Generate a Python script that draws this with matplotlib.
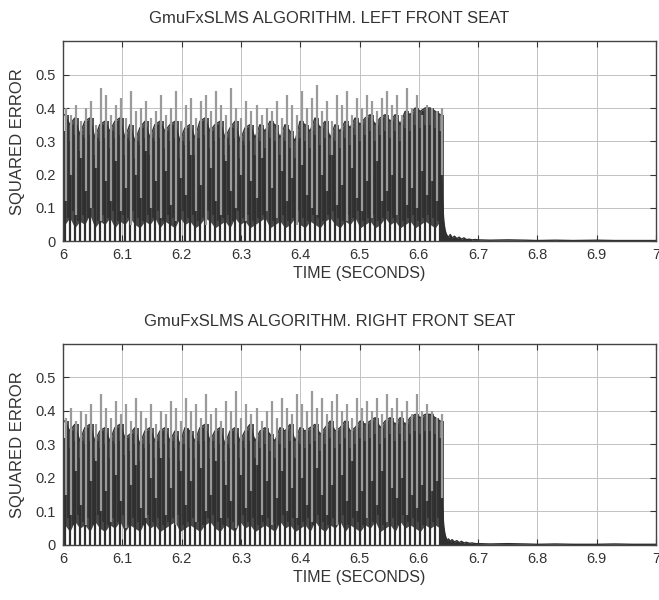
import numpy as np
import matplotlib
matplotlib.use("Agg")
import matplotlib.pyplot as plt

plt.rcParams["font.family"] = ["Liberation Sans", "DejaVu Sans"]

# ---- data -------------------------------------------------------------
# Converging phase: one entry per oscillation cycle between these times (s)
cycle_start = 6.003
cycle_end = 6.636

# LEFT FRONT SEAT
left_peak = [0.40, 0.38, 0.41, 0.36, 0.40, 0.42, 0.35, 0.46, 0.44, 0.38,
             0.41, 0.43, 0.37, 0.45, 0.39, 0.40, 0.42, 0.37, 0.39, 0.44,
             0.38, 0.40, 0.45, 0.36, 0.41, 0.43, 0.37, 0.42, 0.44, 0.39,
             0.45, 0.41, 0.38, 0.46, 0.40, 0.37, 0.42, 0.39, 0.41, 0.38,
             0.40, 0.39, 0.42, 0.37, 0.44, 0.41, 0.38, 0.45, 0.40, 0.43,
             0.47, 0.39, 0.42, 0.36, 0.44, 0.41, 0.45, 0.38, 0.43, 0.40,
             0.44, 0.42, 0.39, 0.43, 0.45, 0.41, 0.44, 0.38, 0.46, 0.40,
             0.44, 0.38, 0.41, 0.40, 0.39, 0.40]
left_body = [0.38, 0.35, 0.37, 0.32, 0.36, 0.37, 0.31, 0.35, 0.36, 0.33,
             0.36, 0.37, 0.31, 0.35, 0.30, 0.34, 0.36, 0.31, 0.35, 0.36,
             0.33, 0.35, 0.36, 0.30, 0.34, 0.35, 0.31, 0.36, 0.37, 0.33,
             0.35, 0.36, 0.31, 0.34, 0.36, 0.30, 0.34, 0.35, 0.31, 0.35,
             0.33, 0.36, 0.35, 0.31, 0.35, 0.33, 0.30, 0.36, 0.35, 0.33,
             0.37, 0.34, 0.36, 0.31, 0.35, 0.33, 0.36, 0.34, 0.37, 0.35,
             0.37, 0.38, 0.35, 0.37, 0.38, 0.36, 0.38, 0.35, 0.39, 0.38,
             0.40, 0.39, 0.40, 0.40, 0.39, 0.38]
left_floor = [0.05, 0.07, 0.04, 0.06, 0.05, 0.08, 0.04, 0.06, 0.05, 0.07,
              0.04, 0.06, 0.05, 0.07, 0.05, 0.04, 0.06, 0.05, 0.07, 0.04,
              0.06, 0.05, 0.04, 0.07, 0.05, 0.06, 0.04, 0.05, 0.07, 0.06,
              0.04, 0.05, 0.06, 0.04, 0.07, 0.05, 0.06, 0.04, 0.05, 0.06,
              0.07, 0.04, 0.05, 0.06, 0.04, 0.05, 0.07, 0.05, 0.04, 0.06,
              0.05, 0.04, 0.06, 0.07, 0.05, 0.04, 0.06, 0.05, 0.07, 0.04,
              0.05, 0.06, 0.04, 0.05, 0.07, 0.05, 0.06, 0.04, 0.05, 0.06,
              0.04, 0.05, 0.06, 0.05, 0.04, 0.06]
left_base = [0.12, 0.20, 0.08, 0.25, 0.15, 0.10, 0.22, 0.06, 0.18, 0.12,
             0.24, 0.09, 0.16, 0.05, 0.20, 0.13, 0.27, 0.10, 0.18, 0.07,
             0.21, 0.11, 0.06, 0.19, 0.14, 0.26, 0.09, 0.17, 0.05, 0.22,
             0.12, 0.08, 0.24, 0.15, 0.10, 0.20, 0.06, 0.18, 0.13, 0.25,
             0.09, 0.16, 0.07, 0.21, 0.12, 0.19, 0.05, 0.23, 0.14, 0.10,
             0.08, 0.20, 0.15, 0.26, 0.11, 0.17, 0.06, 0.22, 0.13, 0.09,
             0.18, 0.07, 0.24, 0.12, 0.15, 0.20, 0.08, 0.19, 0.11, 0.16,
             0.10, 0.21, 0.14, 0.18, 0.12, 0.20]
left_tail_t = [6.636, 6.638, 6.640, 6.642, 6.644, 6.646, 6.648, 6.650, 6.653,
               6.656, 6.660, 6.664, 6.668, 6.672, 6.676, 6.680, 6.685, 6.690,
               6.695, 6.700, 6.720, 6.750, 6.780, 6.800, 6.830, 6.860, 6.900,
               6.930, 6.960, 7.000]
left_tail_v = [0.30, 0.22, 0.12, 0.06, 0.035, 0.022, 0.016, 0.012, 0.020,
               0.010, 0.015, 0.008, 0.012, 0.006, 0.010, 0.005, 0.006, 0.004,
               0.005, 0.004, 0.003, 0.004, 0.003, 0.002, 0.003, 0.002, 0.003,
               0.002, 0.002, 0.002]

# RIGHT FRONT SEAT
right_peak = [0.38, 0.41, 0.37, 0.40, 0.39, 0.42, 0.36, 0.45, 0.41, 0.38,
              0.43, 0.39, 0.42, 0.37, 0.44, 0.40, 0.38, 0.42, 0.36, 0.40,
              0.39, 0.43, 0.41, 0.37, 0.44, 0.40, 0.42, 0.38, 0.45, 0.39,
              0.41, 0.37, 0.43, 0.40, 0.46, 0.38, 0.42, 0.39, 0.41, 0.37,
              0.40, 0.43, 0.38, 0.44, 0.41, 0.39, 0.45, 0.42, 0.40, 0.46,
              0.41, 0.44, 0.39, 0.43, 0.45, 0.40, 0.42, 0.38, 0.44, 0.41,
              0.43, 0.40, 0.44, 0.39, 0.45, 0.41, 0.44, 0.40, 0.43, 0.39,
              0.45, 0.40, 0.42, 0.40, 0.38, 0.39]
right_body = [0.37, 0.34, 0.36, 0.31, 0.35, 0.36, 0.31, 0.34, 0.35, 0.31,
              0.35, 0.36, 0.32, 0.33, 0.35, 0.30, 0.34, 0.35, 0.31, 0.34,
              0.35, 0.31, 0.34, 0.30, 0.35, 0.34, 0.31, 0.35, 0.36, 0.31,
              0.34, 0.35, 0.30, 0.34, 0.35, 0.31, 0.34, 0.36, 0.31, 0.34,
              0.35, 0.33, 0.31, 0.35, 0.34, 0.36, 0.31, 0.35, 0.34, 0.35,
              0.36, 0.33, 0.35, 0.37, 0.34, 0.35, 0.37, 0.34, 0.35, 0.37,
              0.36, 0.37, 0.38, 0.35, 0.37, 0.38, 0.36, 0.38, 0.36, 0.38,
              0.39, 0.38, 0.39, 0.39, 0.38, 0.37]
right_floor = [0.06, 0.04, 0.07, 0.05, 0.06, 0.04, 0.07, 0.05, 0.04, 0.06,
               0.05, 0.07, 0.04, 0.06, 0.05, 0.04, 0.07, 0.05, 0.06, 0.04,
               0.05, 0.06, 0.07, 0.04, 0.05, 0.06, 0.05, 0.04, 0.06, 0.07,
               0.05, 0.04, 0.06, 0.05, 0.04, 0.07, 0.05, 0.06, 0.04, 0.05,
               0.06, 0.05, 0.04, 0.07, 0.05, 0.06, 0.04, 0.05, 0.06, 0.04,
               0.07, 0.05, 0.04, 0.06, 0.05, 0.07, 0.04, 0.06, 0.05, 0.04,
               0.06, 0.05, 0.07, 0.04, 0.05, 0.06, 0.04, 0.07, 0.05, 0.06,
               0.05, 0.04, 0.06, 0.05, 0.06, 0.05]
right_base = [0.15, 0.09, 0.22, 0.12, 0.06, 0.19, 0.25, 0.10, 0.16, 0.07,
              0.21, 0.13, 0.05, 0.18, 0.24, 0.11, 0.08, 0.20, 0.14, 0.26,
              0.09, 0.17, 0.06, 0.22, 0.12, 0.19, 0.07, 0.23, 0.10, 0.15,
              0.25, 0.08, 0.18, 0.13, 0.05, 0.21, 0.11, 0.16, 0.24, 0.09,
              0.19, 0.06, 0.14, 0.22, 0.10, 0.17, 0.08, 0.20, 0.12, 0.07,
              0.23, 0.15, 0.09, 0.18, 0.06, 0.21, 0.13, 0.25, 0.10, 0.16,
              0.08, 0.19, 0.12, 0.22, 0.07, 0.17, 0.14, 0.20, 0.09, 0.15,
              0.11, 0.18, 0.13, 0.16, 0.19, 0.14]
right_tail_t = [6.636, 6.638, 6.640, 6.642, 6.644, 6.646, 6.648, 6.650, 6.653,
                6.656, 6.660, 6.664, 6.668, 6.672, 6.676, 6.680, 6.685, 6.690,
                6.695, 6.700, 6.720, 6.750, 6.780, 6.800, 6.830, 6.860, 6.900,
                6.930, 6.960, 7.000]
right_tail_v = [0.29, 0.20, 0.11, 0.055, 0.032, 0.020, 0.014, 0.018, 0.011,
                0.016, 0.009, 0.013, 0.007, 0.011, 0.006, 0.008, 0.005, 0.006,
                0.004, 0.004, 0.003, 0.004, 0.003, 0.002, 0.003, 0.002, 0.002,
                0.003, 0.002, 0.002]

x_ticks = [6.0, 6.1, 6.2, 6.3, 6.4, 6.5, 6.6, 6.7, 6.8, 6.9, 7.0]
x_tick_labels = ["6", "6.1", "6.2", "6.3", "6.4", "6.5", "6.6", "6.7", "6.8", "6.9", "7"]
y_ticks = [0.0, 0.1, 0.2, 0.3, 0.4, 0.5]
y_tick_labels = ["0", "0.1", "0.2", "0.3", "0.4", "0.5"]

titles = ["GmuFxSLMS ALGORITHM. LEFT FRONT SEAT",
          "GmuFxSLMS ALGORITHM. RIGHT FRONT SEAT"]

# ---- drawing ----------------------------------------------------------
DARK = "#2f2f2f"
MID = "#4a4a4a"
LIGHT = "#9a9a9a"
TEXT = "#333333"


def draw_error(fig, ax, title, peak, body, floor, base, tail_t, tail_v):
    t = np.linspace(cycle_start, cycle_end, len(peak))
    dt = t[1] - t[0]
    # dense body of the squared error (zig-zag upper edge)
    ax.fill_between(t, floor, body, color=MID, lw=0, zorder=2)
    ax.plot(t, body, color=DARK, lw=1.0, zorder=2)
    ax.vlines(t + dt * 0.6, np.array(floor) + 0.02, body,
              color=DARK, lw=1.2, zorder=2)
    # excursions reaching down to zero once per cycle
    ax.vlines(t, 0, np.array(body) - 0.05, color=DARK, lw=1.6, zorder=2)
    # lighter peaks sticking out above the body
    ax.vlines(t + dt * 0.3, base, peak, color=LIGHT, lw=1.6, zorder=3)
    # convergence tail
    ax.fill_between(tail_t, 0, tail_v, color=DARK, lw=0, zorder=2)
    ax.plot(tail_t, tail_v, color=DARK, lw=1.0, zorder=2)

    ax.set_xlim(6.0, 7.0)
    ax.set_ylim(0.0, 0.6)
    ax.set_xticks(x_ticks)
    ax.set_xticklabels(x_tick_labels)
    ax.set_yticks(y_ticks)
    ax.set_yticklabels(y_tick_labels)
    ax.grid(True, color="#c2c2c2", lw=0.7)
    ax.set_axisbelow(True)
    ax.tick_params(direction="in", top=True, right=True, length=4,
                   labelsize=10.5, colors=TEXT, pad=5)
    for s in ax.spines.values():
        s.set_color("#444444")
        s.set_linewidth(1.0)
    # title centred on the whole figure width, above the axes
    top = ax.get_position().y1
    fig.text(0.5, top + 0.038, title, fontsize=12, color=TEXT,
             ha="center", va="center")
    ax.set_xlabel("TIME (SECONDS)", fontsize=11.5, color=TEXT, labelpad=3)
    ax.set_ylabel("SQUARED ERROR", fontsize=12, color=TEXT, labelpad=8)


fig = plt.figure(figsize=(6.59, 6.0), dpi=100)
ax1 = fig.add_axes([0.0956, 0.598, 0.900, 0.333])
ax2 = fig.add_axes([0.0956, 0.0917, 0.900, 0.335])

draw_error(fig, ax1, titles[0], left_peak, left_body, left_floor, left_base,
           left_tail_t, left_tail_v)
draw_error(fig, ax2, titles[1], right_peak, right_body, right_floor,
           right_base, right_tail_t, right_tail_v)

fig.savefig("out.png", dpi=100)
